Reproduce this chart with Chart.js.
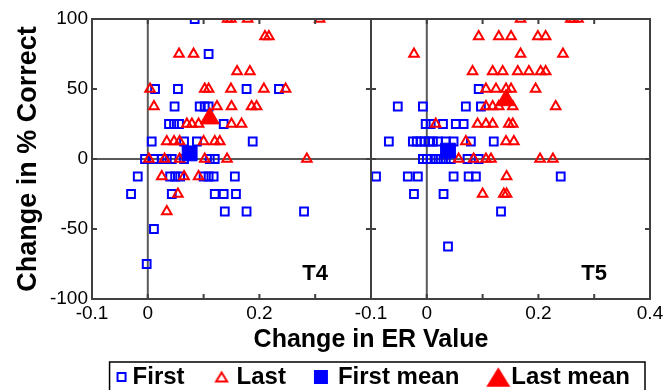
<!DOCTYPE html>
<html>
<head>
<meta charset="utf-8">
<script src="https://cdn.jsdelivr.net/npm/chart.js@4"></script>
<style>
  html, body { margin: 0; padding: 0; background: #fff; }
  #wrap { width: 668px; height: 390px; }
</style>
</head>
<body>
<div id="wrap"><canvas id="chart" width="668" height="390"></canvas></div>
<script>
// panel names and legend labels
const panels = ['T4', 'T5'];
const seriesLabels = ['First', 'Last', 'First mean', 'Last mean'];

// x tick labels of one panel (shared by both)
const xTickValues = [-0.1, 0, 0.2];
const yTickValues = [-100, -50, 0, 50, 100];

// T4 panel
const t4FirstX = [0.084, 0.109, 0.013, 0.054, 0.177, 0.235, 0.048, 0.093, 0.102, 0.109,
    0.038, 0.047, 0.056, 0.136, 0.007, 0.065, 0.088, 0.188,
    -0.005, 0.011, 0.025, 0.034, 0.043, 0.065, 0.111, 0.12,
    -0.018, 0.04, 0.049, 0.058, 0.1, 0.109, 0.118, 0.156,
    -0.03, 0.043, 0.12, 0.136, 0.158, 0.138, 0.177, 0.28, 0.011, -0.002];
const t4FirstY = [100, 75, 50, 50, 50, 50, 37.5, 37.5, 37.5, 37.5,
    25, 25, 25, 25, 12.5, 12.5, 12.5, 12.5,
    0, 0, 0, 0, 0, 0, 0, 0,
    -12.5, -12.5, -12.5, -12.5, -12.5, -12.5, -12.5, -12.5,
    -25, -25, -25, -25, -25, -37.5, -37.5, -37.5, -50, -75];
const t4LastX = [0.143, 0.149, 0.179, 0.308, 0.21, 0.217, 0.056, 0.082, 0.16, 0.183,
    0.004, 0.102, 0.109, 0.149, 0.208, 0.247,
    0.011, 0.124, 0.15, 0.186, 0.195,
    0.07, 0.079, 0.091, 0.15, 0.168,
    0.034, 0.047, 0.057, 0.1, 0.12, 0.129,
    0.002, 0.03, 0.057, 0.102, 0.142, 0.285,
    0.025, 0.065, 0.091, 0.054, 0.034];
const t4LastY = [100, 100, 100, 100, 87.5, 87.5, 75, 75, 62.5, 62.5,
    50, 50, 50, 50, 50, 50,
    37.5, 37.5, 37.5, 37.5, 37.5,
    25, 25, 25, 25, 25,
    12.5, 12.5, 12.5, 12.5, 12.5, 12.5,
    0, 0, 0, 0, 0, 0,
    -12.5, -12.5, -12.5, -25, -37.5];
const t4FirstMean = [0.075, 4];
const t4LastMean = [0.111, 29];

// T5 panel
const t5FirstX = [0.093, -0.052, -0.007, 0.07, 0.097,
    -0.002, 0.007, 0.029, 0.052, 0.066,
    -0.068, -0.025, -0.018, -0.011, -0.004, 0.004, 0.011, 0.02, 0.034, 0.048, 0.079, 0.12,
    -0.007, 0, 0.007, 0.016, 0.025, 0.034, 0.043, 0.073, 0.093,
    -0.091, -0.034, -0.016, 0.048, 0.075, 0.088, 0.24,
    -0.023, 0.03, 0.133, 0.038];
const t5FirstY = [50, 37.5, 37.5, 37.5, 37.5,
    25, 25, 25, 25, 25,
    12.5, 12.5, 12.5, 12.5, 12.5, 12.5, 12.5, 12.5, 12.5, 12.5, 12.5, 12.5,
    0, 0, 0, 0, 0, 0, 0, 0, 0,
    -12.5, -12.5, -12.5, -12.5, -12.5, -12.5, -12.5,
    -25, -25, -37.5, -62.5];
const t5LastX = [0.168, 0.258, 0.263, 0.271,
    0.093, 0.129, 0.151, 0.199, 0.213,
    -0.023, 0.168, 0.244,
    0.082, 0.118, 0.136, 0.163, 0.183, 0.204, 0.213,
    0.106, 0.124, 0.142, 0.151, 0.195,
    0.106, 0.118, 0.129, 0.154, 0.231,
    0.016, 0.091, 0.106, 0.118, 0.147, 0.154,
    0.07, 0.142, 0.156,
    0.057, 0.084, 0.106, 0.115, 0.203, 0.226,
    0.143, 0.1, 0.138, 0.143];
const t5LastY = [100, 100, 100, 100,
    87.5, 87.5, 87.5, 87.5, 87.5,
    75, 75, 75,
    62.5, 62.5, 62.5, 62.5, 62.5, 62.5, 62.5,
    50, 50, 50, 50, 50,
    37.5, 37.5, 37.5, 37.5, 37.5,
    25, 25, 25, 25, 25, 25,
    12.5, 12.5, 12.5,
    0, 0, 0, 0, 0, 0,
    -12.5, -25, -25, -25];
const t5FirstMean = [0.038, 6];
const t5LastMean = [0.142, 42];

// both panels share one x axis, the second panel sits SHIFT further right
const SHIFT = 0.5;
const FONT = '"Liberation Sans", Arial, sans-serif';
const BLUE = '#0000ff';
const RED = '#ff0000';

// legend geometry
const LEG_FONT = 24;
const LEG_PAD = 20;
const LEG_BOX = 20;

function toPoints(xs, ys, shift) {
    return xs.map((x, i) => ({x: x + shift, y: ys[i]}));
}

// small canvases used as legend symbols, so each entry can get its own size.
// the canvas is centred on the legend box; dx moves the symbol towards the text
function legendMarker(kind, filled, color, size, dx) {
    const c = document.createElement('canvas');
    c.width = 60;
    c.height = 28;
    const g = c.getContext('2d');
    const cx = 30 + dx, cy = 14;
    g.strokeStyle = color;
    g.fillStyle = color;
    g.lineWidth = 2;
    g.beginPath();
    if (kind === 'rect') {
        g.rect(cx - size / 2, cy - size / 2, size, size);
    } else {
        const h = size * 0.82;
        g.moveTo(cx, cy - h / 2);
        g.lineTo(cx + size / 2, cy + h / 2);
        g.lineTo(cx - size / 2, cy + h / 2);
        g.closePath();
    }
    filled ? g.fill() : g.stroke();
    return c;
}

const legendMarkers = [
    legendMarker('rect', false, BLUE, 8, 11),
    legendMarker('tri', false, RED, 11, 7),
    legendMarker('rect', true, BLUE, 14, 5),
    legendMarker('tri', true, RED, 24, 9)
];

const panelFrames = {
    id: 'panelFrames',
    beforeDatasetsDraw(chart) {
        const {ctx, scales: {x, y}} = chart;
        ctx.save();
        ctx.strokeStyle = '#5a5a5a';
        ctx.lineWidth = 2;
        ctx.beginPath();
        const y0 = y.getPixelForValue(0);
        ctx.moveTo(x.left, y0);
        ctx.lineTo(x.right, y0);
        [0, SHIFT].forEach(off => {
            const px = x.getPixelForValue(off);
            ctx.moveTo(px, y.top);
            ctx.lineTo(px, y.bottom);
        });
        ctx.stroke();
        ctx.restore();
    },
    afterDatasetsDraw(chart) {
        const {ctx, scales: {x, y}} = chart;
        ctx.save();
        ctx.strokeStyle = '#404040';
        ctx.lineWidth = 2;
        const tick = 5;
        [0, SHIFT].forEach((off, p) => {
            const l = x.getPixelForValue(-0.1 + off);
            const r = x.getPixelForValue(0.4 + off);
            ctx.strokeRect(l, y.top, r - l, y.bottom - y.top);
            ctx.beginPath();
            for (let v = 0; v <= 0.3001; v += 0.1) {
                const px = x.getPixelForValue(v + off);
                ctx.moveTo(px, y.bottom);
                ctx.lineTo(px, y.bottom - tick);
                ctx.moveTo(px, y.top);
                ctx.lineTo(px, y.top + tick);
            }
            yTickValues.slice(1, -1).forEach(v => {
                const py = y.getPixelForValue(v);
                ctx.moveTo(l, py);
                ctx.lineTo(l + tick, py);
                ctx.moveTo(r, py);
                ctx.lineTo(r - tick, py);
            });
            ctx.stroke();

            ctx.fillStyle = '#000';
            ctx.font = 'bold 22px ' + FONT;
            ctx.textAlign = 'center';
            ctx.textBaseline = 'middle';
            ctx.fillText(panels[p], x.getPixelForValue(0.3 + off), y.getPixelForValue(-82));
        });
        ctx.restore();
    },
    afterDraw(chart) {
        // box around the legend
        const leg = chart.legend;
        const boxes = leg.legendHitBoxes;
        if (!boxes || !boxes.length) return;
        const left = Math.min(...boxes.map(b => b.left)) + 9;
        const right = Math.max(...boxes.map(b => b.left + b.width)) + 15;
        const mid = leg.top + LEG_PAD + LEG_FONT / 2;
        const {ctx} = chart;
        ctx.save();
        ctx.strokeStyle = '#000';
        ctx.lineWidth = 1.5;
        ctx.strokeRect(left, mid - 15, right - left, 30);
        ctx.restore();
    }
};

new Chart(document.getElementById('chart'), {
    type: 'scatter',
    data: {
        datasets: [
            {
                label: seriesLabels[0],
                data: [...toPoints(t4FirstX, t4FirstY, 0), ...toPoints(t5FirstX, t5FirstY, SHIFT)],
                pointStyle: 'rect',
                pointRadius: 5.5,
                borderColor: BLUE,
                backgroundColor: 'rgba(0,0,0,0)',
                borderWidth: 2,
                order: 3
            },
            {
                label: seriesLabels[1],
                data: [...toPoints(t4LastX, t4LastY, 0), ...toPoints(t5LastX, t5LastY, SHIFT)],
                pointStyle: 'triangle',
                pointRadius: 5.5,
                borderColor: RED,
                backgroundColor: 'rgba(0,0,0,0)',
                borderWidth: 2,
                order: 2
            },
            {
                label: seriesLabels[2],
                data: [
                    {x: t4FirstMean[0], y: t4FirstMean[1]},
                    {x: t5FirstMean[0] + SHIFT, y: t5FirstMean[1]}
                ],
                pointStyle: 'rect',
                pointRadius: 10.5,
                borderColor: BLUE,
                backgroundColor: BLUE,
                borderWidth: 1,
                order: 1
            },
            {
                label: seriesLabels[3],
                data: [
                    {x: t4LastMean[0], y: t4LastMean[1]},
                    {x: t5LastMean[0] + SHIFT, y: t5LastMean[1]}
                ],
                pointStyle: 'triangle',
                pointRadius: 11,
                borderColor: RED,
                backgroundColor: RED,
                borderWidth: 1,
                order: 0
            }
        ]
    },
    options: {
        responsive: false,
        animation: false,
        events: [],
        layout: {padding: {left: 0, right: 18, top: 19, bottom: 0}},
        plugins: {
            tooltip: {enabled: false},
            legend: {
                position: 'bottom',
                align: 'end',
                maxHeight: 13 + LEG_PAD + LEG_FONT / 2,
                labels: {
                    usePointStyle: true,
                    pointStyleWidth: LEG_BOX,
                    padding: LEG_PAD,
                    color: '#000',
                    font: {family: FONT, size: LEG_FONT, weight: 'bold'},
                    generateLabels: chart => chart.data.datasets.map((ds, i) => ({
                        text: ds.label,
                        pointStyle: legendMarkers[i],
                        datasetIndex: i,
                        hidden: false,
                        lineWidth: 0
                    }))
                }
            }
        },
        scales: {
            x: {
                type: 'linear',
                min: -0.1,
                max: 0.4 + SHIFT,
                afterFit: s => { s.height = 91 - (13 + LEG_PAD + LEG_FONT / 2); },
                afterBuildTicks: s => {
                    s.ticks = [...xTickValues, ...xTickValues.map(v => v + SHIFT), 0.4 + SHIFT]
                        .map(v => ({value: v}));
                },
                grid: {display: false, drawTicks: false},
                border: {display: false},
                ticks: {
                    padding: 3,
                    color: '#000',
                    maxRotation: 0,
                    font: {family: FONT, size: 19},
                    callback: v => {
                        const local = Math.round((v >= 0.4 - 1e-9 ? v - SHIFT : v) * 10) / 10;
                        return String(local);
                    }
                },
                title: {
                    display: true,
                    text: 'Change in ER Value',
                    color: '#000',
                    font: {family: FONT, size: 25, weight: 'bold', lineHeight: 0.4},
                    padding: {top: 0, bottom: 0}
                }
            },
            y: {
                min: -100,
                max: 100,
                afterFit: s => { s.width = 92; },
                afterBuildTicks: s => { s.ticks = yTickValues.map(v => ({value: v})); },
                grid: {display: false, drawTicks: false},
                border: {display: false},
                ticks: {
                    padding: 4,
                    color: '#000',
                    font: {family: FONT, size: 19}
                },
                title: {
                    display: true,
                    text: 'Change in % Correct',
                    color: '#000',
                    font: {family: FONT, size: 27, weight: 'bold'},
                    padding: {top: 12, bottom: 0}
                }
            }
        }
    },
    plugins: [panelFrames]
});
</script>
</body>
</html>
